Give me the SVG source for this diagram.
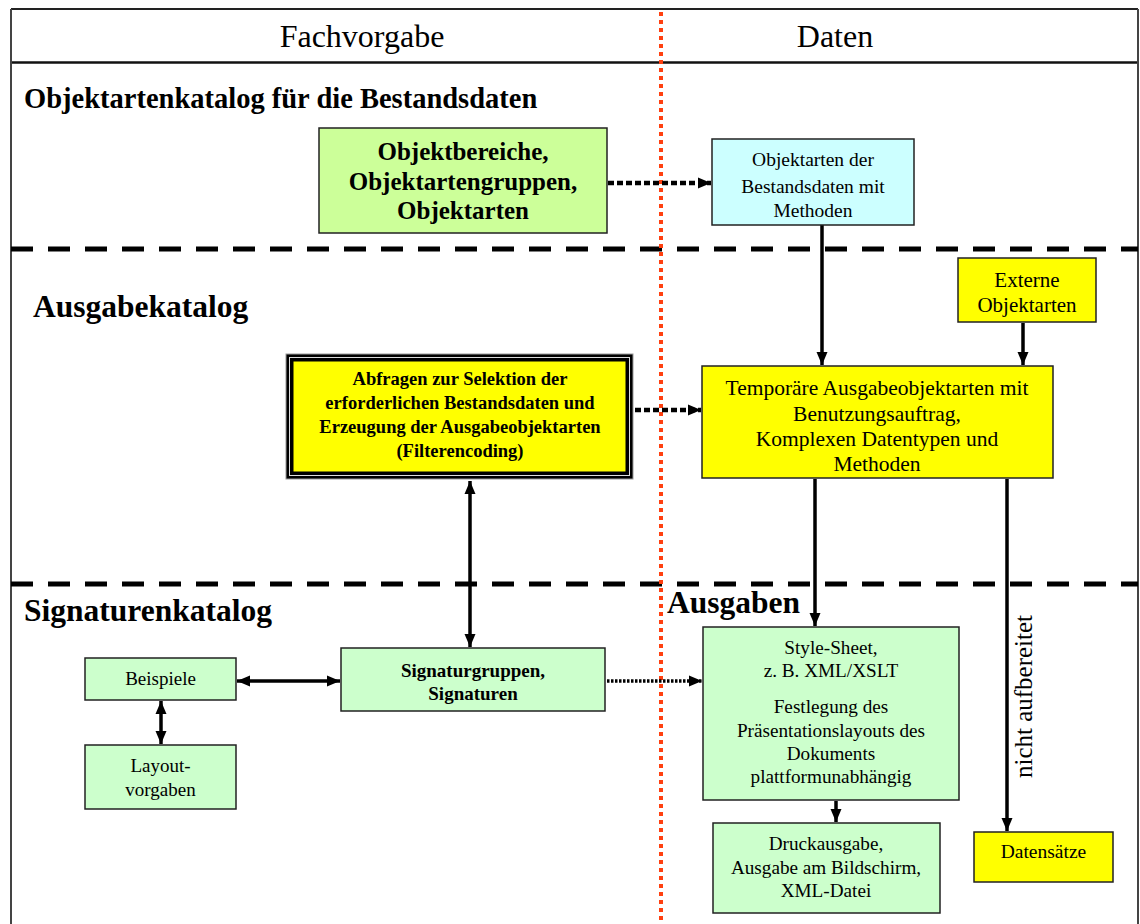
<svg xmlns="http://www.w3.org/2000/svg" width="1140" height="924" viewBox="0 0 1140 924">
<style>
text{font-family:"Liberation Serif","Times New Roman",serif;fill:#000}
.c{text-anchor:middle}
.b{font-weight:bold}
.box{stroke:#222;stroke-width:1.5}
.sol{stroke:#000;stroke-width:3.5;fill:none}
.dot{stroke:#000;stroke-width:4.5;fill:none;stroke-dasharray:6 3}
.dot2{stroke:#000;stroke-width:3.5;fill:none;stroke-dasharray:2.5 1.5}
.sep{stroke:#000;stroke-width:5;stroke-dasharray:22 15}
</style>
<defs>
<marker id="ah" markerUnits="userSpaceOnUse" markerWidth="14" markerHeight="14" viewBox="0 0 14 14" refX="13" refY="7" orient="auto-start-reverse">
<path d="M0,1.5 L13,7 L0,12.5 Z" fill="#000"/>
</marker>
</defs>
<rect width="1140" height="924" fill="#fff"/>
<g id="frame">
<line x1="11" y1="9" x2="1138" y2="9" stroke="#222" stroke-width="2"/>
<line x1="11" y1="62.5" x2="1138" y2="62.5" stroke="#111" stroke-width="2.5"/>
<line x1="11" y1="9" x2="11" y2="924" stroke="#444" stroke-width="2"/>
<line x1="1138" y1="9" x2="1138" y2="924" stroke="#444" stroke-width="2"/>
<line x1="11" y1="249" x2="1138" y2="249" class="sep"/>
<line x1="11" y1="584" x2="1138" y2="584" class="sep"/>
<line x1="661" y1="12" x2="661" y2="924" stroke="#FF4010" stroke-width="4" stroke-dasharray="4 4"/>
<text x="362" y="47" class="c" font-size="32">Fachvorgabe</text>
<text x="835" y="47" class="c" font-size="32">Daten</text>
<text x="24" y="108" class="b" font-size="28.5">Objektartenkatalog für die Bestandsdaten</text>
<text x="33" y="317" class="b" font-size="31.5">Ausgabekatalog</text>
<text x="24" y="621" class="b" font-size="31.5">Signaturenkatalog</text>
<text x="667" y="613" class="b" font-size="31.5">Ausgaben</text>
</g>
<g id="connectors">
<path d="M608,183 L711,183" class="dot" marker-end="url(#ah)"/>
<path d="M635,410 L701,410" class="dot" marker-end="url(#ah)"/>
<path d="M607,681 L702,681" class="dot2" marker-end="url(#ah)"/>
<path d="M822,225 L822,365" class="sol" marker-end="url(#ah)"/>
<path d="M1023,323 L1023,365" class="sol" marker-end="url(#ah)"/>
<path d="M815,479 L815,626" class="sol" marker-end="url(#ah)"/>
<path d="M1007,479 L1007,831" class="sol" marker-end="url(#ah)"/>
<path d="M836,801 L836,822" class="sol" marker-end="url(#ah)"/>
<path d="M470,481 L470,647" class="sol" marker-start="url(#ah)" marker-end="url(#ah)"/>
<path d="M237,681 L340,681" class="sol" marker-start="url(#ah)" marker-end="url(#ah)"/>
<path d="M161,701 L161,744" class="sol" marker-start="url(#ah)" marker-end="url(#ah)"/>
<text transform="translate(1032,696.5) rotate(-90)" class="c" font-size="25">nicht aufbereitet</text>
</g>
<g id="objektbereiche">
<rect x="319" y="128" width="288" height="105" fill="#CCFF99" class="box"/>
<text x="463" y="160" class="c b" font-size="25">Objektbereiche,</text>
<text x="463" y="190" class="c b" font-size="25">Objektartengruppen,</text>
<text x="463" y="219" class="c b" font-size="25">Objektarten</text>
</g>
<g id="objektarten-bestand">
<rect x="712" y="139" width="202" height="86" fill="#CCFFFF" class="box"/>
<text x="813" y="166" class="c" font-size="19.5">Objektarten der</text>
<text x="813" y="193" class="c" font-size="19.5">Bestandsdaten mit</text>
<text x="813" y="217" class="c" font-size="19.5">Methoden</text>
</g>
<g id="externe">
<rect x="958" y="258" width="138" height="64" fill="#FFFF00" class="box"/>
<text x="1027" y="287" class="c" font-size="21">Externe</text>
<text x="1027" y="312" class="c" font-size="21">Objektarten</text>
</g>
<g id="temporaere">
<rect x="702" y="366" width="351" height="112" fill="#FFFF00" class="box"/>
<text x="877" y="395" class="c" font-size="21.5">Temporäre Ausgabeobjektarten mit</text>
<text x="877" y="421" class="c" font-size="21.5">Benutzungsauftrag,</text>
<text x="877" y="446" class="c" font-size="21.5">Komplexen Datentypen und</text>
<text x="877" y="471" class="c" font-size="21.5">Methoden</text>
</g>
<g id="abfragen">
<rect x="286" y="354" width="347" height="125" fill="#000" stroke="#999" stroke-width="1"/>
<rect x="289.5" y="357.5" width="340" height="118" fill="none" stroke="#ddd" stroke-width="1"/>
<rect x="293" y="361" width="333" height="111" fill="#FFFF00" stroke="#000" stroke-width="1"/>
<text x="460" y="385" class="c b" font-size="18.5">Abfragen zur Selektion der</text>
<text x="460" y="409" class="c b" font-size="18.5">erforderlichen Bestandsdaten und</text>
<text x="460" y="433" class="c b" font-size="18.5">Erzeugung der Ausgabeobjektarten</text>
<text x="460" y="457" class="c b" font-size="18.5">(Filterencoding)</text>
</g>
<g id="signaturgruppen">
<rect x="341" y="648" width="264" height="63" fill="#CCFFCC" class="box"/>
<text x="473" y="677" class="c b" font-size="19">Signaturgruppen,</text>
<text x="473" y="700" class="c b" font-size="19">Signaturen</text>
</g>
<g id="beispiele">
<rect x="85" y="658" width="151" height="42" fill="#CCFFCC" class="box"/>
<text x="160.5" y="685" class="c" font-size="19">Beispiele</text>
</g>
<g id="layoutvorgaben">
<rect x="85" y="745" width="151" height="64" fill="#CCFFCC" class="box"/>
<text x="160.5" y="772" class="c" font-size="19">Layout-</text>
<text x="160.5" y="796" class="c" font-size="19">vorgaben</text>
</g>
<g id="stylesheet">
<rect x="703" y="627" width="256" height="173" fill="#CCFFCC" class="box"/>
<text x="831" y="654" class="c" font-size="19.2">Style-Sheet,</text>
<text x="831" y="677" class="c" font-size="19.2">z. B. XML/XSLT</text>
<text x="831" y="713" class="c" font-size="19.2">Festlegung des</text>
<text x="831" y="737" class="c" font-size="19.2">Präsentationslayouts des</text>
<text x="831" y="760" class="c" font-size="19.2">Dokuments</text>
<text x="831" y="783" class="c" font-size="19.2">plattformunabhängig</text>
</g>
<g id="druckausgabe">
<rect x="713" y="823" width="227" height="90" fill="#CCFFCC" class="box"/>
<text x="826" y="850" class="c" font-size="19.2">Druckausgabe,</text>
<text x="826" y="874" class="c" font-size="19.2">Ausgabe am Bildschirm,</text>
<text x="826" y="897" class="c" font-size="19.2">XML-Datei</text>
</g>
<g id="datensaetze">
<rect x="974" y="832" width="139" height="50" fill="#FFFF00" class="box"/>
<text x="1043.5" y="858" class="c" font-size="19.5">Datensätze</text>
</g>
</svg>
